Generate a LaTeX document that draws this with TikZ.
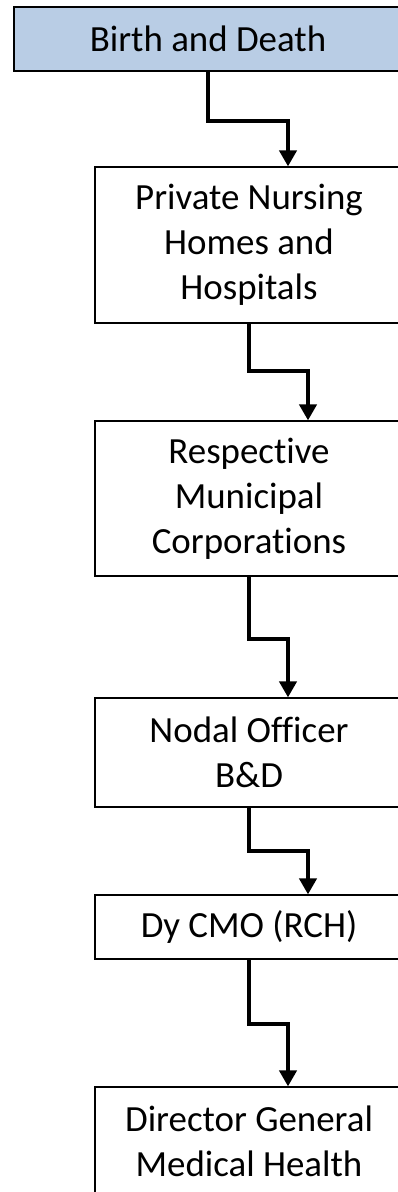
\documentclass[tikz,border=0pt]{standalone}
\usepackage{fontspec}
\setmainfont[RawFeature=-liga]{Carlito}
\usetikzlibrary{arrows.meta}
\definecolor{boxblue}{HTML}{B9CDE5}
\tikzset{
  flowbox/.style={draw=black, line width=1.2pt, fill=white, inner sep=0pt,
    align=center, font=\fontsize{36.9}{45}\selectfont},
  flowarrow/.style={line width=4pt, -{Triangle[width=17pt,length=16pt]}}
}
\begin{document}
\begin{tikzpicture}[x=1pt,y=-1pt]
\useasboundingbox (0,0) rectangle (398,1192);
\clip (0,0) rectangle (398,1192);
\node[flowbox, fill=boxblue, minimum width=388pt, minimum height=64pt] (b1) at (208,39) {Birth and Death};
\node[flowbox, minimum width=308pt, minimum height=156pt] (b2) at (249,245) {Private Nursing\\Homes and\\Hospitals};
\node[flowbox, minimum width=308pt, minimum height=155pt] (b3) at (249,498.5) {Respective\\Municipal\\Corporations};
\node[flowbox, minimum width=308pt, minimum height=109pt] (b4) at (249,752.5) {Nodal Officer\\B\&D};
\node[flowbox, minimum width=308pt, minimum height=64pt] (b5) at (249,927) {Dy CMO (RCH)};
\node[flowbox, minimum width=308pt, minimum height=109pt] (b6) at (249,1141.5) {Director General\\Medical Health};
\coordinate (t2) at (288,0);
\coordinate (t3) at (308,0);
\coordinate (t4) at (288,0);
\coordinate (t5) at (308,0);
\coordinate (t6) at (288,0);
\draw[flowarrow] (b1.south) -- ++(0,49) -| (b2.north -| t2);
\draw[flowarrow] (b2.south) -- ++(0,47) -| (b3.north -| t3);
\draw[flowarrow] (b3.south) -- ++(0,62) -| (b4.north -| t4);
\draw[flowarrow] (b4.south) -- ++(0,43) -| (b5.north -| t5);
\draw[flowarrow] (b5.south) -- ++(0,64) -| (b6.north -| t6);
\end{tikzpicture}
\end{document}
